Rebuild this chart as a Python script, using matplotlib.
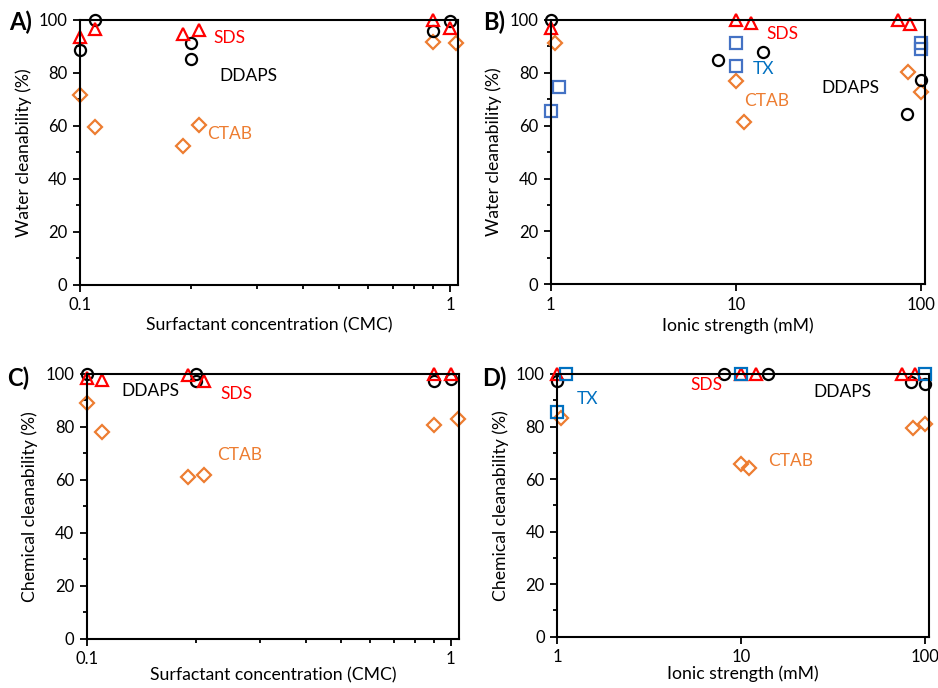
import matplotlib.pyplot as plt
from matplotlib.ticker import FixedLocator, NullFormatter, FixedFormatter, MultipleLocator

plt.rcParams["font.family"] = ["Lato", "DejaVu Sans"]

RED = "#FF0000"
ORANGE = "#ED7D31"
BLUE_B = "#4472C4"
BLUE_D = "#0070C0"

# A) water cleanability vs surfactant concentration (CMC)
a_sds_x = [0.1, 0.11, 0.19, 0.21, 0.9, 1.0]
a_sds_y = [93.7, 96.5, 94.6, 96.2, 100, 96.8]
a_ddaps_x = [0.1, 0.11, 0.2, 0.2, 0.9, 1.0]
a_ddaps_y = [88.6, 100, 91.4, 85.4, 95.8, 99.7]
a_ctab_x = [0.1, 0.11, 0.19, 0.21, 0.9, 1.04]
a_ctab_y = [71.6, 59.6, 52.4, 60.3, 91.8, 91.2]

# B) water cleanability vs ionic strength (mM)
b_sds_x = [1, 10, 12, 75, 87]
b_sds_y = [96.8, 100, 98.7, 100, 98.4]
b_ddaps_x = [1, 8, 14, 84, 100]
b_ddaps_y = [100, 84.9, 88, 64.4, 77.3]
b_tx_x = [1, 1.11, 10, 10, 100, 100]
b_tx_y = [65.7, 74.8, 91.4, 82.6, 91.2, 88.9]
b_ctab_x = [1.055, 10, 11, 85, 100]
b_ctab_y = [91.2, 77, 61.3, 80.3, 72.9]

# C) chemical cleanability vs surfactant concentration (CMC)
c_sds_x = [0.1, 0.11, 0.19, 0.21, 0.9, 1.0]
c_sds_y = [98.6, 97.7, 99.6, 97.4, 100, 100]
c_ddaps_x = [0.1, 0.2, 0.2, 0.9, 1.0]
c_ddaps_y = [100, 100, 97.5, 97.4, 98]
c_ctab_x = [0.1, 0.11, 0.19, 0.21, 0.9, 1.05]
c_ctab_y = [89.2, 78, 61.2, 62, 80.7, 83]

# D) chemical cleanability vs ionic strength (mM)
d_sds_x = [1, 10, 12, 75, 88]
d_sds_y = [100, 100, 100, 100, 100]
d_ddaps_x = [1, 8, 14, 84, 100]
d_ddaps_y = [97.5, 100, 100, 96.8, 96.1]
d_tx_x = [1.11, 1, 10, 100]
d_tx_y = [100, 85.7, 100, 100]
d_ctab_x = [1.047, 10, 11, 85.6, 100]
d_ctab_y = [83.1, 65.7, 64.1, 79.3, 80.8]

W, H = 938, 688
fig = plt.figure(figsize=(W / 100, H / 100), dpi=100)


def make_axes(left, right, top, bottom):
    return fig.add_axes([left / W, 1 - bottom / H, (right - left) / W, (bottom - top) / H])


def style_axes(ax, xlim, major, labels, minor):
    ax.set_xscale("log")
    ax.set_xlim(*xlim)
    ax.set_ylim(0, 100)
    ax.xaxis.set_major_locator(FixedLocator(major))
    ax.xaxis.set_major_formatter(FixedFormatter(labels))
    ax.xaxis.set_minor_locator(FixedLocator(minor))
    ax.xaxis.set_minor_formatter(NullFormatter())
    ax.yaxis.set_major_locator(MultipleLocator(20))
    ax.yaxis.set_minor_locator(MultipleLocator(10))
    ax.tick_params(which="major", direction="out", length=5, width=1.3, labelsize=12, pad=4)
    ax.tick_params(which="minor", direction="out", length=3, width=1.3)
    for s in ax.spines.values():
        s.set_linewidth(1.5)


def scatter(ax, x, y, marker, color, ms):
    ax.plot(x, y, linestyle="none", marker=marker, ms=ms, mfc="none",
            mec=color, mew=1.6, clip_on=False)


def label(ax, x, y, text, color):
    ax.text(x, y, text, color=color, fontsize=12.5, ha="left", va="center",
            transform=ax.transAxes)


conc_minor = [0.2, 0.3, 0.4, 0.5, 0.6, 0.7, 0.8, 0.9]

# Panel A
ax = make_axes(80, 458, 20, 284.5)
style_axes(ax, (0.1, 1.05), [0.1, 1], ["0.1", "1"], conc_minor)
scatter(ax, a_ctab_x, a_ctab_y, "D", ORANGE, 7)
scatter(ax, a_ddaps_x, a_ddaps_y, "o", "black", 8)
scatter(ax, a_sds_x, a_sds_y, "^", RED, 9)
label(ax, 0.352, 0.932, "SDS", RED)
label(ax, 0.370, 0.788, "DDAPS", "black")
label(ax, 0.336, 0.569, "CTAB", ORANGE)
ax.set_xlabel("Surfactant concentration (CMC)", fontsize=12.7, labelpad=3)
ax.set_ylabel("Water cleanability (%)", fontsize=12.7, labelpad=5)

# Panel B
ax = make_axes(550.7, 925, 20, 284.3)
style_axes(ax, (1, 105), [1, 10, 100], ["1", "10", "100"], [])
scatter(ax, b_ctab_x, b_ctab_y, "D", ORANGE, 7)
scatter(ax, b_tx_x, b_tx_y, "s", BLUE_B, 8)
scatter(ax, b_ddaps_x, b_ddaps_y, "o", "black", 8)
scatter(ax, b_sds_x, b_sds_y, "^", RED, 9)
label(ax, 0.577, 0.947, "SDS", RED)
label(ax, 0.539, 0.813, "TX", BLUE_D)
label(ax, 0.724, 0.742, "DDAPS", "black")
label(ax, 0.516, 0.694, "CTAB", ORANGE)
ax.set_xlabel("Ionic strength (mM)", fontsize=12.7, labelpad=3)
ax.set_ylabel("Water cleanability (%)", fontsize=12.7, labelpad=5)

# Panel C
ax = make_axes(86.7, 459, 374, 638.7)
style_axes(ax, (0.1, 1.054), [0.1, 1], ["0.1", "1"], conc_minor)
scatter(ax, c_ctab_x, c_ctab_y, "D", ORANGE, 7)
scatter(ax, c_ddaps_x, c_ddaps_y, "o", "black", 8)
scatter(ax, c_sds_x, c_sds_y, "^", RED, 9)
label(ax, 0.094, 0.936, "DDAPS", "black")
label(ax, 0.358, 0.923, "SDS", RED)
label(ax, 0.349, 0.694, "CTAB", ORANGE)
ax.set_xlabel("Surfactant concentration (CMC)", fontsize=12.7, labelpad=0)
ax.set_ylabel("Chemical cleanability (%)", fontsize=12.7, labelpad=5)

# Panel D
ax = make_axes(557.3, 929.3, 374, 636.7)
style_axes(ax, (1, 105), [1, 10, 100], ["1", "10", "100"], [])
scatter(ax, d_ctab_x, d_ctab_y, "D", ORANGE, 7)
scatter(ax, d_ddaps_x, d_ddaps_y, "o", "black", 8)
scatter(ax, d_sds_x, d_sds_y, "^", RED, 9)
scatter(ax, d_tx_x, d_tx_y, "s", BLUE_D, 8)
label(ax, 0.052, 0.904, "TX", BLUE_D)
label(ax, 0.359, 0.958, "SDS", RED)
label(ax, 0.688, 0.930, "DDAPS", "black")
label(ax, 0.567, 0.670, "CTAB", ORANGE)
ax.set_xlabel("Ionic strength (mM)", fontsize=12.7, labelpad=0)
ax.set_ylabel("Chemical cleanability (%)", fontsize=12.7, labelpad=5)

for txt, px, py in [("A)", 9, 22), ("B)", 483, 22), ("C)", 7, 378), ("D)", 482, 378)]:
    fig.text(px / W, 1 - py / H, txt, fontsize=17, fontweight="bold", ha="left", va="center")

fig.savefig("out.png", dpi=100)
